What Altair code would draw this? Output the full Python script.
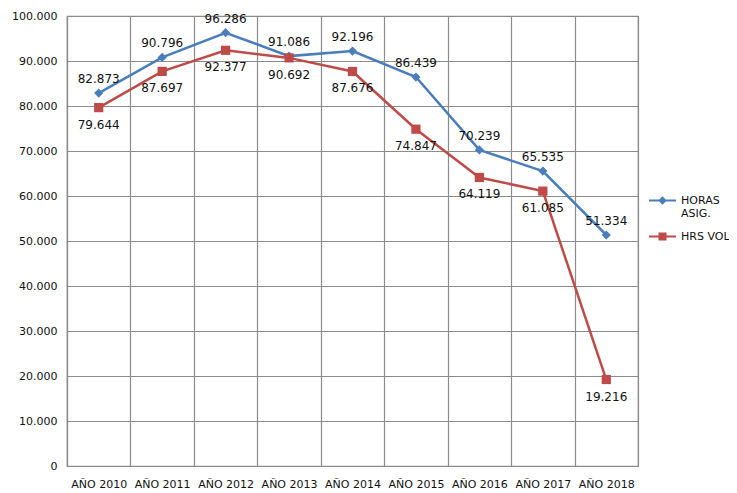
import altair as alt
import pandas as pd

years = ["AÑO 2010", "AÑO 2011", "AÑO 2012", "AÑO 2013", "AÑO 2014",
         "AÑO 2015", "AÑO 2016", "AÑO 2017", "AÑO 2018"]
horas_asig = [82873, 90796, 96286, 91086, 92196, 86439, 70239, 65535, 51334]
hrs_vol = [79644, 87697, 92377, 90692, 87676, 74847, 64119, 61085, 19216]
series = ["HORAS ASIG.", "HRS VOL"]
colors = ["#4A7EBB", "#BE4B48"]
shapes = ["diamond", "square"]
# legend symbols: a short line with the marker on it
legend_shapes = [
    "M-2.7,-0.22H2.7V0.22H-2.7Z M0,-0.85L0.85,0L0,0.85L-0.85,0Z",
    "M-2.7,-0.22H2.7V0.22H-2.7Z M-0.8,-0.8H0.8V0.8H-0.8Z",
]
y_ticks = list(range(0, 100001, 10000))

rows = []
for y, a, b in zip(years, horas_asig, hrs_vol):
    rows.append({"anio": y, "serie": series[0], "valor": a})
    rows.append({"anio": y, "serie": series[1], "valor": b})
df = pd.DataFrame(rows)

FONT = "DejaVu Sans"
TXT = "#111111"
fmt = "replace(format(datum.valor, ','), ',', '.')"

x_enc = alt.X("anio:N", sort=years, title=None,
              scale=alt.Scale(type="band", paddingInner=0, paddingOuter=0),
              axis=alt.Axis(labelAngle=0, tickBand="extent", grid=True, ticks=False,
                            labelPadding=12, labelFont=FONT, labelFontSize=11,
                            labelColor=TXT, gridColor="#8c8c8c", gridWidth=1.2,
                            domainColor="#8c8c8c", domainWidth=1.2))
y_enc = alt.Y("valor:Q", title=None,
              scale=alt.Scale(domain=[0, 100000], nice=False),
              axis=alt.Axis(values=y_ticks, grid=True, ticks=False, labelPadding=10,
                            labelExpr="replace(format(datum.value, ','), ',', '.')",
                            labelFont=FONT, labelFontSize=11, labelColor=TXT,
                            gridColor="#8c8c8c", gridWidth=1.2,
                            domainColor="#8c8c8c", domainWidth=1.2))
legend = alt.Legend(title=None, orient="none", legendX=590, legendY=179,
                    labelFont=FONT, labelFontSize=11, labelColor=TXT,
                    symbolSize=100, symbolOpacity=1, symbolStrokeWidth=0,
                    rowPadding=11, labelOffset=13,
                    labelExpr="datum.label == 'HORAS ASIG.' ? ['HORAS', 'ASIG.'] : datum.label")
color_scale = alt.Scale(domain=series, range=colors)
color_plain = alt.Color("serie:N", sort=series, scale=color_scale, legend=None)

base = alt.Chart(df)

lines = base.mark_line(strokeWidth=2.5).encode(x=x_enc, y=y_enc, color=color_plain)
points = base.mark_point(filled=True, size=85, opacity=1).encode(
    x=x_enc, y=y_enc, color=color_plain,
    shape=alt.Shape("serie:N", sort=series, scale=alt.Scale(domain=series, range=shapes),
                    legend=None))
legend_layer = base.transform_filter("false").mark_point(filled=True, opacity=1).encode(
    color=alt.Color("serie:N", sort=series, scale=color_scale, legend=legend),
    shape=alt.Shape("serie:N", sort=series,
                    scale=alt.Scale(domain=series, range=legend_shapes), legend=legend))

labels_top = base.transform_filter(alt.datum.serie == series[0]).transform_calculate(
    lbl=fmt).mark_text(dy=-14, font=FONT, fontSize=12, color=TXT).encode(
    x=x_enc, y=y_enc, text="lbl:N")
labels_bot = base.transform_filter(alt.datum.serie == series[1]).transform_calculate(
    lbl=fmt).mark_text(dy=17, font=FONT, fontSize=12, color=TXT).encode(
    x=x_enc, y=y_enc, text="lbl:N")

chart = alt.layer(lines, points, legend_layer, labels_top, labels_bot).resolve_scale(
    shape="independent", color="independent"
).properties(
    width=571, height=450,
    padding={"left": 59, "top": 8, "right": 91, "bottom": 26},
    autosize="none",
    background="#ffffff",
).configure_view(stroke="#8c8c8c", strokeWidth=1.2)

chart.save("out.html", embed_options={"renderer": "svg", "actions": False})
